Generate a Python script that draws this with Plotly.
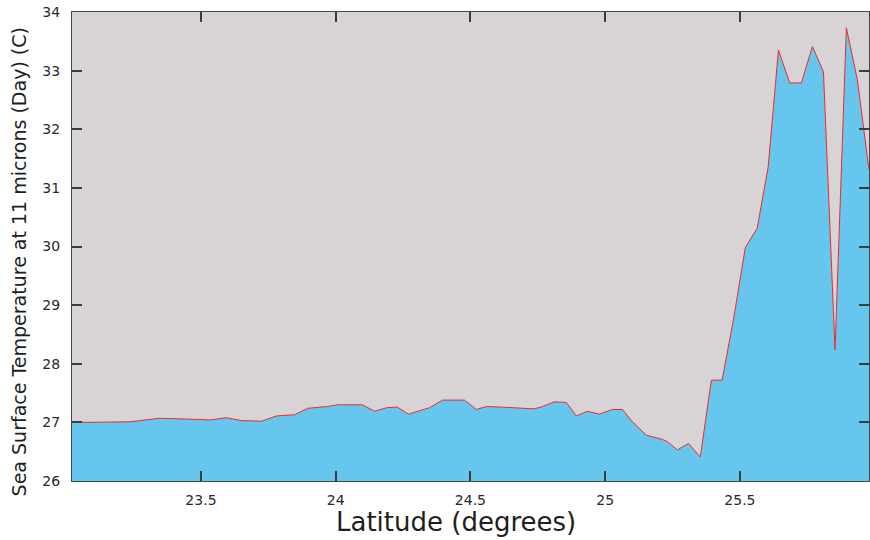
import plotly.graph_objects as go

latitude = [23.0215, 23.081, 23.237, 23.346, 23.494, 23.531, 23.594, 23.651, 23.725, 23.780,
            23.847, 23.896, 23.966, 24.007, 24.099, 24.144, 24.189, 24.229, 24.270, 24.348,
            24.397, 24.478, 24.522, 24.560, 24.619, 24.737, 24.767, 24.811, 24.856, 24.893,
            24.934, 24.978, 25.027, 25.064, 25.101, 25.153, 25.212, 25.231, 25.268, 25.309,
            25.353, 25.394, 25.434, 25.477, 25.520, 25.564, 25.605, 25.643, 25.685, 25.728,
            25.769, 25.810, 25.853, 25.895, 25.936, 25.979]
sst = [27.01, 27.00, 27.01, 27.07, 27.05, 27.04, 27.08, 27.03, 27.02, 27.11,
       27.13, 27.24, 27.27, 27.30, 27.30, 27.19, 27.25, 27.26, 27.14, 27.25,
       27.38, 27.38, 27.22, 27.27, 27.26, 27.23, 27.27, 27.35, 27.34, 27.11,
       27.19, 27.14, 27.22, 27.22, 27.01, 26.78, 26.71, 26.67, 26.53, 26.64,
       26.41, 27.72, 27.72, 28.78, 29.98, 30.31, 31.36, 33.35, 32.79, 32.79,
       33.41, 32.98, 28.24, 33.73, 32.84, 31.31]

x_ticks = [23.5, 24, 24.5, 25, 25.5]
y_ticks = [26, 27, 28, 29, 30, 31, 32, 33, 34]
x_title = "Latitude (degrees)"
y_title = "Sea Surface Temperature at 11 microns (Day) (C)"

fig = go.Figure()
fig.add_trace(go.Scatter(
    x=latitude, y=sst, mode="lines", fill="tozeroy",
    fillcolor="rgb(102,198,237)",
    line=dict(color="rgb(240,40,40)", width=1),
    hoverinfo="x+y", showlegend=False,
))

axis_common = dict(
    showline=True, linecolor="rgb(70,70,70)", linewidth=1, mirror="ticks",
    ticks="inside", ticklen=10, tickcolor="rgb(60,60,60)", tickwidth=1.5,
    showgrid=False, zeroline=False, automargin=False,
    tickfont=dict(family="DejaVu Sans", size=14, color="rgb(40,40,40)"),
)

fig.update_xaxes(
    range=[23.0215, 25.979], tickvals=x_ticks, ticktext=[str(v) for v in x_ticks],
    ticklabelstandoff=6,
    **axis_common,
)
fig.update_yaxes(
    range=[26, 34], tickvals=y_ticks, ticktext=[str(v) for v in y_ticks],
    ticklabelstandoff=8,
    **axis_common,
)

fig.add_annotation(
    text=x_title, xref="paper", yref="paper", x=0.482, y=-0.087,
    xanchor="center", yanchor="middle", showarrow=False,
    font=dict(family="DejaVu Sans", size=26, color="rgb(30,30,30)"),
)
fig.add_annotation(
    text=y_title, xref="paper", yref="paper", x=-0.066, y=0.467,
    xanchor="center", yanchor="middle", showarrow=False, textangle=-90,
    font=dict(family="DejaVu Sans", size=19, color="rgb(30,30,30)"),
)

fig.update_layout(
    width=870, height=540,
    margin=dict(l=72, r=1, t=12, b=59),
    paper_bgcolor="white",
    plot_bgcolor="rgb(216,212,213)",
)

fig.write_html(
    "out.html",
    config={"displayModeBar": False},
    post_script="document.body.style.margin='0';document.body.style.overflow='hidden';",
)
